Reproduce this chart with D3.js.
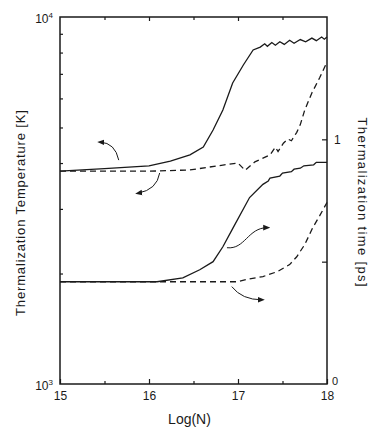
<!DOCTYPE html>
<html>
<head>
<meta charset="utf-8">
<script src="https://cdn.jsdelivr.net/npm/d3@7"></script>
<style>
  body { margin: 0; background: #fff; }
  svg { display: block; font-family: "Liberation Sans", Arial, sans-serif; }
</style>
</head>
<body>
<div class="chart"></div>
<script>
// upper solid: temperature (left axis)
const tempSolidN = [15, 15.5, 16, 16.24, 16.46, 16.61, 16.72, 16.83, 16.94, 17.06, 17.17, 17.25,
                    17.3, 17.33, 17.38, 17.42, 17.47, 17.52, 17.58, 17.63, 17.7, 17.76, 17.83, 17.88, 17.94, 17.97, 18];
const tempSolidK = [3800, 3860, 3930, 4050, 4210, 4420, 4920, 5580, 6610, 7400, 8130, 8280,
                    8450, 8320, 8520, 8380, 8560, 8420, 8640, 8480, 8680, 8560, 8760, 8620, 8820, 8700, 8820];

// upper dashed: temperature (left axis)
const tempDashN = [15, 16, 16.46, 16.83, 17.0, 17.08, 17.19, 17.36, 17.42, 17.45, 17.51, 17.56, 17.6, 17.66, 17.7, 17.75, 17.83, 17.92, 18];
const tempDashK = [3800, 3800, 3830, 3950, 4000, 3820, 4030, 4210, 4420, 4300, 4530, 4650, 4600, 4850, 5090, 5580, 6210, 6850, 7540];

// lower solid: time (right axis)
const timeSolidN = [15, 16.09, 16.38, 16.57, 16.72, 16.83, 16.94, 17.13, 17.28, 17.34, 17.36, 17.47, 17.5, 17.6, 17.63, 17.7, 17.74, 17.85, 17.88, 18];
const timeSolidPs = [0.418, 0.418, 0.434, 0.467, 0.5, 0.561, 0.635, 0.762, 0.816, 0.83, 0.842, 0.85, 0.862, 0.868, 0.878, 0.882, 0.892, 0.896, 0.906, 0.906];

// lower dashed: time (right axis)
const timeDashN = [15, 16.99, 17.13, 17.28, 17.44, 17.58, 17.66, 17.75, 17.84, 17.92, 18];
const timeDashPs = [0.418, 0.418, 0.43, 0.439, 0.459, 0.488, 0.52, 0.57, 0.639, 0.689, 0.742];

const xTicks = [15, 16, 17, 18];
const xMinor = [15.5, 16.5, 17.5];
const tempMinor = [2000, 3000, 4000, 5000, 6000, 7000, 8000, 9000];
const timeTicks = [0.5, 1];

const w = 381;
const h = 438;
const pLeft = 60, pRight = 327, pTop = 17, pBottom = 384;
const ink = '#1a1a1a';

const svg = d3.select('.chart')
  .append('svg')
  .attr('width', w)
  .attr('height', h);

const x = d3.scaleLinear().domain([15, 18]).range([pLeft, pRight]);
const yT = d3.scaleLog().domain([1000, 10000]).range([pBottom, pTop]);
const yt = d3.scaleLinear().domain([0, 1.5]).range([pBottom, pTop]);

// axes
const style = (g) => {
  g.select('.domain').remove();
  g.selectAll('line').attr('stroke', ink).attr('stroke-width', 1.2);
  g.selectAll('text').attr('fill', ink);
};

svg.append('g')
  .attr('transform', 'translate(0,' + pBottom + ')')
  .call(d3.axisBottom(x).tickValues(xTicks).tickSize(-5).tickPadding(7).tickFormat(d3.format('d')))
  .call(style)
  .call(g => g.attr('font-family', null).selectAll('text').attr('font-size', 12));

svg.append('g')
  .attr('transform', 'translate(0,' + pBottom + ')')
  .call(d3.axisBottom(x).tickValues(xMinor).tickSize(-3).tickFormat(''))
  .call(style);

svg.append('g')
  .attr('transform', 'translate(0,' + pTop + ')')
  .call(d3.axisTop(x).tickValues(xTicks.slice(1, 3)).tickSize(-4).tickFormat(''))
  .call(style);

svg.append('g')
  .attr('transform', 'translate(0,' + pTop + ')')
  .call(d3.axisTop(x).tickValues(xMinor).tickSize(-3).tickFormat(''))
  .call(style);

svg.append('g')
  .attr('transform', 'translate(' + pLeft + ',0)')
  .call(d3.axisLeft(yT).tickValues(tempMinor).tickSize(-3).tickFormat(''))
  .call(style);

svg.append('g')
  .attr('transform', 'translate(' + pRight + ',0)')
  .call(d3.axisRight(yt).tickValues(timeTicks).tickSize(-5).tickFormat(''))
  .call(style);

// frame
svg.append('rect')
  .attr('x', pLeft).attr('y', pTop)
  .attr('width', pRight - pLeft).attr('height', pBottom - pTop)
  .attr('fill', 'none').attr('stroke', ink).attr('stroke-width', 1.5);

// corner labels
const sup = (yPos, base, exp) => {
  const t = svg.append('text')
    .attr('x', pLeft - 7).attr('y', yPos)
    .attr('text-anchor', 'end')
    .attr('font-size', 12).attr('fill', ink);
  t.append('tspan').text(base);
  t.append('tspan').attr('font-size', 8).attr('dy', -5).text(exp);
};
sup(yT(10000) + 6, '10', '4');
sup(yT(1000) + 6, '10', '3');

svg.append('text')
  .attr('x', pRight + 5).attr('y', yt(0) + 1)
  .attr('font-size', 11).attr('fill', ink).text('0');
svg.append('text')
  .attr('x', pRight + 7).attr('y', yt(1) + 5)
  .attr('font-size', 12).attr('fill', ink).text('1');

// axis titles
svg.append('text')
  .attr('transform', 'translate(25,' + 213 + ') rotate(-90)')
  .attr('text-anchor', 'middle')
  .attr('font-size', 13).attr('fill', ink)
  .attr('textLength', 206).attr('lengthAdjust', 'spacing')
  .text('Thermalization Temperature [K]');

svg.append('text')
  .attr('transform', 'translate(358,' + 202 + ') rotate(90)')
  .attr('text-anchor', 'middle')
  .attr('font-size', 13).attr('fill', ink)
  .attr('textLength', 169).attr('lengthAdjust', 'spacing')
  .text('Thermalization time [ps]');

svg.append('text')
  .attr('x', (pLeft + pRight) / 2 - 4).attr('y', 424)
  .attr('text-anchor', 'middle')
  .attr('font-size', 14).attr('fill', ink)
  .text('Log(N)');

// curves
const lineT = d3.line().x(d => x(d[0])).y(d => yT(d[1]));
const linet = d3.line().x(d => x(d[0])).y(d => yt(d[1]));

const curves = [
  { d: lineT(d3.zip(tempSolidN, tempSolidK)), dash: null },
  { d: lineT(d3.zip(tempDashN, tempDashK)), dash: '6,4' },
  { d: linet(d3.zip(timeSolidN, timeSolidPs)), dash: null },
  { d: linet(d3.zip(timeDashN, timeDashPs)), dash: '6,4' }
];

svg.selectAll('path.curve')
  .data(curves)
  .enter()
  .append('path')
  .attr('class', 'curve')
  .attr('d', c => c.d)
  .attr('fill', 'none')
  .attr('stroke', ink)
  .attr('stroke-width', 1.3)
  .attr('stroke-dasharray', c => c.dash);

// arrows pointing to the axis each curve belongs to
svg.append('defs').append('marker')
  .attr('id', 'head')
  .attr('markerUnits', 'userSpaceOnUse')
  .attr('viewBox', '0 0 10 10')
  .attr('refX', 6).attr('refY', 5)
  .attr('markerWidth', 7).attr('markerHeight', 7)
  .attr('orient', 'auto')
  .append('path')
  .attr('d', 'M0,1 L10,5 L0,9 z')
  .attr('fill', ink);

const arrows = [
  { s: yT, p: [[15.66, 4074], [15.62, 4540], [15.45, 4562]] },
  { s: yT, p: [[16.12, 3758], [16.09, 3384], [15.876, 3311]] },
  { s: yt, p: [[16.876, 0.557], [17.08, 0.549], [17.11, 0.639], [17.33, 0.639]] },
  { s: yt, p: [[16.93, 0.398], [17.045, 0.344], [17.27, 0.344]] }
];

svg.selectAll('path.arrow')
  .data(arrows)
  .enter()
  .append('path')
  .attr('class', 'arrow')
  .attr('d', a => {
    const pts = a.p.map(d => [x(d[0]), a.s(d[1])]);
    const cmd = pts.length === 3 ? 'Q' : 'C';
    return 'M' + pts[0] + cmd + pts.slice(1).join(' ');
  })
  .attr('fill', 'none')
  .attr('stroke', ink)
  .attr('stroke-width', 1)
  .attr('marker-end', 'url(#head)');
</script>
</body>
</html>
